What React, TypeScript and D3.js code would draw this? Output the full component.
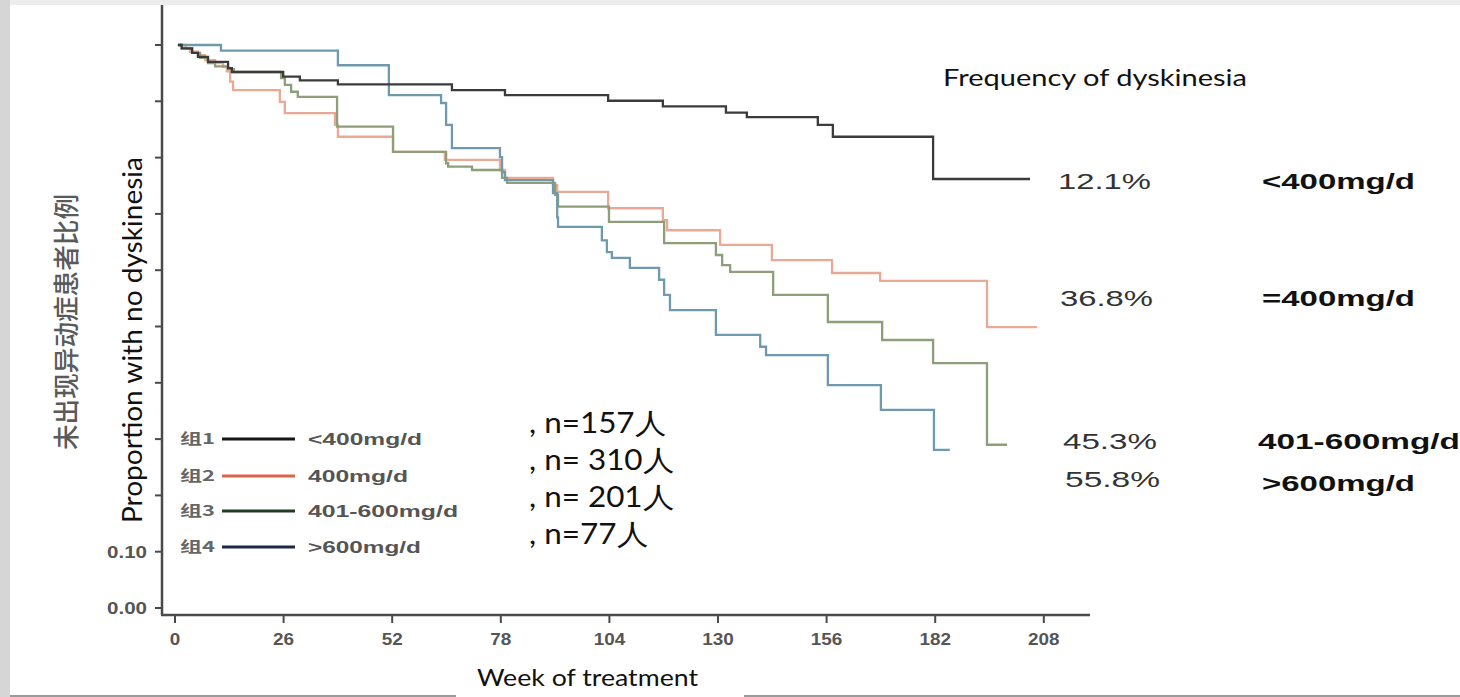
import React from "react";
import * as d3 from "d3";

// ---------- data ----------
const weekTicks = [0, 26, 52, 78, 104, 130, 156, 182, 208];
const yTicks = [0, 0.1, 0.2, 0.3, 0.4, 0.5, 0.6, 0.7, 0.8, 0.9, 1.0];
const yTickLabels = [
  { v: 0.1, t: "0.10" },
  { v: 0.0, t: "0.00" },
];

// [week, proportion without dyskinesia]
const group1: [number, number][] = [
  [0.7, 1.0], [1.6, 0.994], [4.1, 0.986], [5.5, 0.979], [7.9, 0.97], [12.7, 0.959], [13.6, 0.952],
  [25.9, 0.944], [29.9, 0.937], [39.0, 0.93], [66.3, 0.92], [79.0, 0.911], [103.7, 0.901],
  [116.8, 0.891], [131.9, 0.88], [136.9, 0.872], [153.9, 0.858], [157.5, 0.837], [181.5, 0.762],
  [204.7, 0.762],
];
const group2: [number, number][] = [
  [0.7, 1.0], [2.6, 0.993], [3.6, 0.988], [5.5, 0.982], [7.2, 0.973], [9.6, 0.968], [11.5, 0.961],
  [12.4, 0.953], [13.2, 0.935], [13.9, 0.92], [25.1, 0.899], [26.3, 0.879], [38.3, 0.858],
  [39.0, 0.837], [52.2, 0.81], [64.6, 0.796], [77.8, 0.778], [79.0, 0.764], [90.5, 0.751],
  [91.5, 0.739], [103.7, 0.71], [116.8, 0.689], [117.8, 0.671], [130.5, 0.645], [142.9, 0.618],
  [157.3, 0.595], [168.8, 0.581], [194.4, 0.499], [206.4, 0.499],
];
const group3: [number, number][] = [
  [0.7, 1.0], [1.6, 0.994], [4.1, 0.986], [6.0, 0.977], [7.9, 0.968], [9.6, 0.962], [12.7, 0.957],
  [14.1, 0.952], [25.4, 0.941], [26.3, 0.929], [27.8, 0.917], [29.4, 0.908], [38.8, 0.855],
  [52.2, 0.81], [64.9, 0.79], [65.4, 0.784], [71.1, 0.778], [78.3, 0.764], [79.5, 0.755],
  [91.0, 0.734], [91.7, 0.713], [103.9, 0.686], [117.1, 0.648], [129.5, 0.627], [131.0, 0.609],
  [132.9, 0.597], [143.2, 0.556], [156.3, 0.508], [169.3, 0.476], [181.5, 0.435], [194.4, 0.29],
  [199.2, 0.29],
];
const group4: [number, number][] = [
  [0.7, 1.0], [11.0, 0.99], [39.0, 0.964], [51.2, 0.911], [63.7, 0.897], [64.9, 0.858],
  [66.3, 0.817], [77.8, 0.801], [78.3, 0.774], [79.0, 0.76], [90.5, 0.737], [91.5, 0.694],
  [91.7, 0.677], [102.2, 0.653], [103.4, 0.632], [104.6, 0.622], [108.9, 0.604], [115.9, 0.583],
  [117.1, 0.556], [118.5, 0.529], [129.5, 0.485], [140.1, 0.464], [141.5, 0.449], [156.3, 0.396],
  [169.0, 0.352], [181.7, 0.281], [185.5, 0.281],
];

const groupIds = ["组1", "组2", "组3", "组4"];
const doseLegend = ["<400mg/d", "400mg/d", "401-600mg/d", ">600mg/d"];
const nLabels = [", n=157人", ", n= 310人", ", n= 201人", ", n=77人"];
const freqValues = ["12.1%", "36.8%", "45.3%", "55.8%"];
const doseRight = ["<400mg/d", "=400mg/d", "401-600mg/d", ">600mg/d"];

const curveColors = ["#3b3b3b", "#eaa995", "#8c9f78", "#6f9aae"];
const legendColors = ["#151515", "#d8674a", "#233d25", "#1f2748"];

export default function App() {
  const x = d3.scaleLinear().domain([0, 208]).range([175, 1043.8]);
  const y = d3.scaleLinear().domain([0, 1]).range([608, 45]);
  const line = d3
    .line<[number, number]>()
    .x((d) => x(d[0]))
    .y((d) => y(d[1]))
    .curve(d3.curveStepAfter);
  const series = [group1, group2, group3, group4];
  const drawOrder = [1, 2, 3, 0];

  const arial = "'Liberation Sans', Arial, sans-serif";
  const geo = "Lato, 'Open Sans', sans-serif";

  const legendRows = [439, 476, 511, 547];
  const legendLabelW = [114, 100, 150, 113];
  const nRows = [433, 470, 507, 544];
  const nW = [137, 145, 145, 119];
  const freqRows = [181, 298, 441, 479];
  const freqW = [93, 93, 94, 95];
  const doseRows = [181, 298, 441, 483];
  const doseW = [153, 153, 202, 153];
  const doseX = [1262, 1262, 1258, 1262];
  const freqX = [1058, 1060, 1063, 1065];

  return (
    <svg
      width={1460}
      height={697}
      style={{ position: "absolute", left: 0, top: 0, background: "#fff" }}
    >
      {/* slide frame */}
      <rect x={0} y={0} width={1460} height={697} fill="#fff" />
      <rect x={0} y={0} width={1460} height={5} fill="#ececec" />
      <rect x={0} y={0} width={10} height={697} fill="#d6d6d6" />
      <line x1={10} y1={696} x2={456} y2={696} stroke="#7a7a7a" strokeWidth={1.5} />
      <line x1={744} y1={696} x2={1460} y2={696} stroke="#7a7a7a" strokeWidth={1.5} />

      {/* axes */}
      <line x1={162} y1={5} x2={162} y2={615} stroke="#4a4a4a" strokeWidth={2.5} />
      <line x1={161} y1={615} x2={1090} y2={615} stroke="#4a4a4a" strokeWidth={2.5} />
      {yTicks.map((v) => (
        <line key={v} x1={155} x2={162} y1={y(v)} y2={y(v)} stroke="#4a4a4a" strokeWidth={2} />
      ))}
      {yTickLabels.map((d) => (
        <text
          key={d.t}
          x={107}
          y={y(d.v) + 6}
          fontFamily={arial}
          fontWeight="bold"
          fontSize={16}
          fill="#555"
          textLength={40}
          lengthAdjust="spacingAndGlyphs"
        >
          {d.t}
        </text>
      ))}
      {weekTicks.map((w) => (
        <g key={w}>
          <line x1={x(w)} x2={x(w)} y1={615} y2={623} stroke="#4a4a4a" strokeWidth={2} />
          <text
            x={x(w)}
            y={645}
            textAnchor="middle"
            fontFamily={arial}
            fontWeight="bold"
            fontSize={16}
            fill="#555"
            textLength={String(w).length * 10.5}
            lengthAdjust="spacingAndGlyphs"
          >
            {w}
          </text>
        </g>
      ))}

      {/* curves */}
      {drawOrder.map((i) => (
        <path
          key={i}
          d={line(series[i]) || ""}
          fill="none"
          stroke={curveColors[i]}
          strokeWidth={2.3}
        />
      ))}

      {/* axis titles */}
      <text
        transform="translate(76,322) rotate(-90)"
        textAnchor="middle"
        fontFamily="'Noto Sans CJK SC', sans-serif"
        fontWeight={500}
        fontSize={26}
        fill="#5a5a5a"
        textLength={256}
        lengthAdjust="spacingAndGlyphs"
      >
        未出现异动症患者比例
      </text>
      <text
        transform="translate(142,340) rotate(-90)"
        textAnchor="middle"
        fontFamily={geo}
        fontSize={26}
        fill="#111"
        textLength={366}
        lengthAdjust="spacingAndGlyphs"
      >
        Proportion with no dyskinesia
      </text>
      <text
        x={477}
        y={686}
        fontFamily={geo}
        fontSize={24}
        fill="#111"
        textLength={221}
        lengthAdjust="spacingAndGlyphs"
      >
        Week of treatment
      </text>
      <text
        x={943}
        y={86}
        fontFamily={geo}
        fontSize={24}
        fill="#111"
        textLength={304}
        lengthAdjust="spacingAndGlyphs"
      >
        Frequency of dyskinesia
      </text>

      {/* legend */}
      {groupIds.map((g, i) => (
        <g key={g}>
          <text
            x={180}
            y={legendRows[i] + 5}
            fontFamily="'Noto Sans CJK SC', sans-serif"
            fontWeight={700}
            fontSize={15}
            fill="#666"
            textLength={35}
            lengthAdjust="spacingAndGlyphs"
          >
            {g}
          </text>
          <line
            x1={222}
            x2={295}
            y1={legendRows[i]}
            y2={legendRows[i]}
            stroke={legendColors[i]}
            strokeWidth={3.2}
          />
          <text
            x={308}
            y={legendRows[i] + 6}
            fontFamily={arial}
            fontWeight="bold"
            fontSize={16}
            fill="#555"
            textLength={legendLabelW[i]}
            lengthAdjust="spacingAndGlyphs"
          >
            {doseLegend[i]}
          </text>
        </g>
      ))}

      {/* n labels */}
      {nLabels.map((t, i) => (
        <text
          key={t}
          x={529}
          y={nRows[i]}
          fontFamily={geo}
          fontSize={28}
          fill="#111"
          textLength={nW[i]}
          lengthAdjust="spacingAndGlyphs"
        >
          {t}
        </text>
      ))}

      {/* right-side frequencies */}
      {freqValues.map((t, i) => (
        <text
          key={t}
          x={freqX[i]}
          y={freqRows[i] + 8}
          fontFamily={arial}
          fontSize={22}
          fill="#333"
          textLength={freqW[i]}
          lengthAdjust="spacingAndGlyphs"
        >
          {t}
        </text>
      ))}
      {doseRight.map((t, i) => (
        <text
          key={t + i}
          x={doseX[i]}
          y={doseRows[i] + 8}
          fontFamily={arial}
          fontWeight="bold"
          fontSize={22}
          fill="#111"
          textLength={doseW[i]}
          lengthAdjust="spacingAndGlyphs"
        >
          {t}
        </text>
      ))}
    </svg>
  );
}
